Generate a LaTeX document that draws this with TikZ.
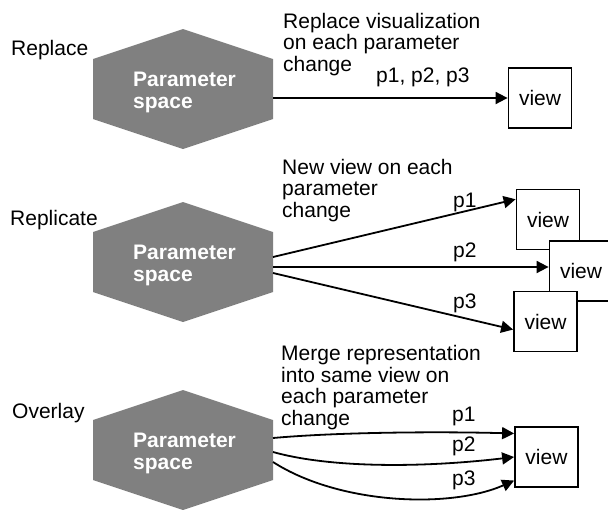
\documentclass[tikz,border=0pt]{standalone}
\usepackage{fontspec}
\setmainfont{Liberation Sans}
\usetikzlibrary{arrows.meta,calc}
\definecolor{hexgray}{RGB}{128,128,128}
\tikzset{
  hexcore/.style={minimum width=180pt, minimum height=60pt, inner sep=0pt, outer sep=0pt},
  hexfill/.style={fill=hexgray},
  ptext/.style={anchor=base west, align=left, inner sep=0pt, text=white, font=\bfseries\fontsize{21}{22}\selectfont},
  lbl/.style={anchor=base west, inner sep=0pt, font=\fontsize{21}{21.5}\selectfont},
  desc/.style={anchor=base west, align=left, inner sep=0pt, font=\fontsize{21}{21.5}\selectfont},
  viewbox/.style={draw=black, fill=white, line width=1.8pt, minimum width=63pt, minimum height=60pt, inner sep=0pt, font=\fontsize{21}{21.5}\selectfont},
  arr/.style={line width=1.8pt, -{Triangle[length=12pt,width=12pt]}},
}
\newcommand\hexaround[1]{\fill[hexfill] (#1.north west) -- ($(#1.north)+(0,-30)$) -- (#1.north east) -- (#1.south east) -- ($(#1.south)+(0,30)$) -- (#1.south west) -- cycle;}
\begin{document}
\begin{tikzpicture}[x=1pt,y=-1pt]
\useasboundingbox (0,0) rectangle (608,509);
% hexagons
\node[hexcore] (hx1) at (183,89) {};
\node[hexcore] (hx2) at (183,262) {};
\node[hexcore] (hx3) at (183,450) {};
\hexaround{hx1}
\hexaround{hx2}
\hexaround{hx3}
% multi-line nodes: base anchor = baseline of the last line
\node[ptext] (pt1) at ($(hx1.center)+(-50,19)$) {Parameter\\space};
\node[ptext] (pt2) at ($(hx2.center)+(-50,19)$) {Parameter\\space};
\node[ptext] (pt3) at ($(hx3.center)+(-50,19)$) {Parameter\\space};
% mode labels
\node[lbl] (l1) at (11,55) {Replace};
\node[lbl] (l2) at (10,225) {Replicate};
\node[lbl] (l3) at (12,418) {Overlay};
% descriptions
\node[desc] (d1) at (283,71) {Replace visualization\\on each parameter\\change};
\node[desc] (d2) at (282,217) {New view on each\\parameter\\change};
\node[desc] (d3) at (281,425) {Merge representation\\into same view on\\each parameter\\change};
% view boxes
\node[viewbox] (v1) at (540,98) {view};
\node[viewbox] (v21) at (548,219.5) {view};
\node[viewbox] (v22) at (581,271) {view};
\node[viewbox] (v23) at (545.5,321.5) {view};
\node[viewbox] (v3) at (546.5,457) {view};
% connector starts
\coordinate (a1) at ($(hx1.east)+(0,9)$);
\coordinate (a21) at ($(hx2.east)+(0,-5)$);
\coordinate (a22) at ($(hx2.east)+(0,5)$);
\coordinate (a23) at ($(hx2.east)+(0,11)$);
\coordinate (a31) at ($(hx3.east)+(0,-12)$);
\coordinate (a32) at ($(hx3.east)+(0,2)$);
\coordinate (a33) at ($(hx3.east)+(0,12)$);
% connectors
\draw[arr] (a1) -- (a1 -| v1.west);
\draw[arr] (a21) -- (v21.148);
\draw[arr] (a22) -- (a22 -| v22.west);
\draw[arr] (a23) -- (v23.194);
\draw[arr] (a31) .. controls +(67,-6) and +(-73,-2) .. (v3.144);
\draw[arr] (a32) .. controls +(57,16) and +(-93,11) .. (v3.west);
\draw[arr] (a33) .. controls +(67,43) and +(-63,28) .. (v3.216);
% connector labels
\node[lbl] (q1) at (376,82) {p1, p2, p3};
\node[lbl] (q21) at (453,207) {p1};
\node[lbl] (q22) at (453,257) {p2};
\node[lbl] (q23) at (453,308) {p3};
\node[lbl] (q31) at (452,421) {p1};
\node[lbl] (q32) at (452,451) {p2};
\node[lbl] (q33) at (452,485) {p3};
\end{tikzpicture}
\end{document}
